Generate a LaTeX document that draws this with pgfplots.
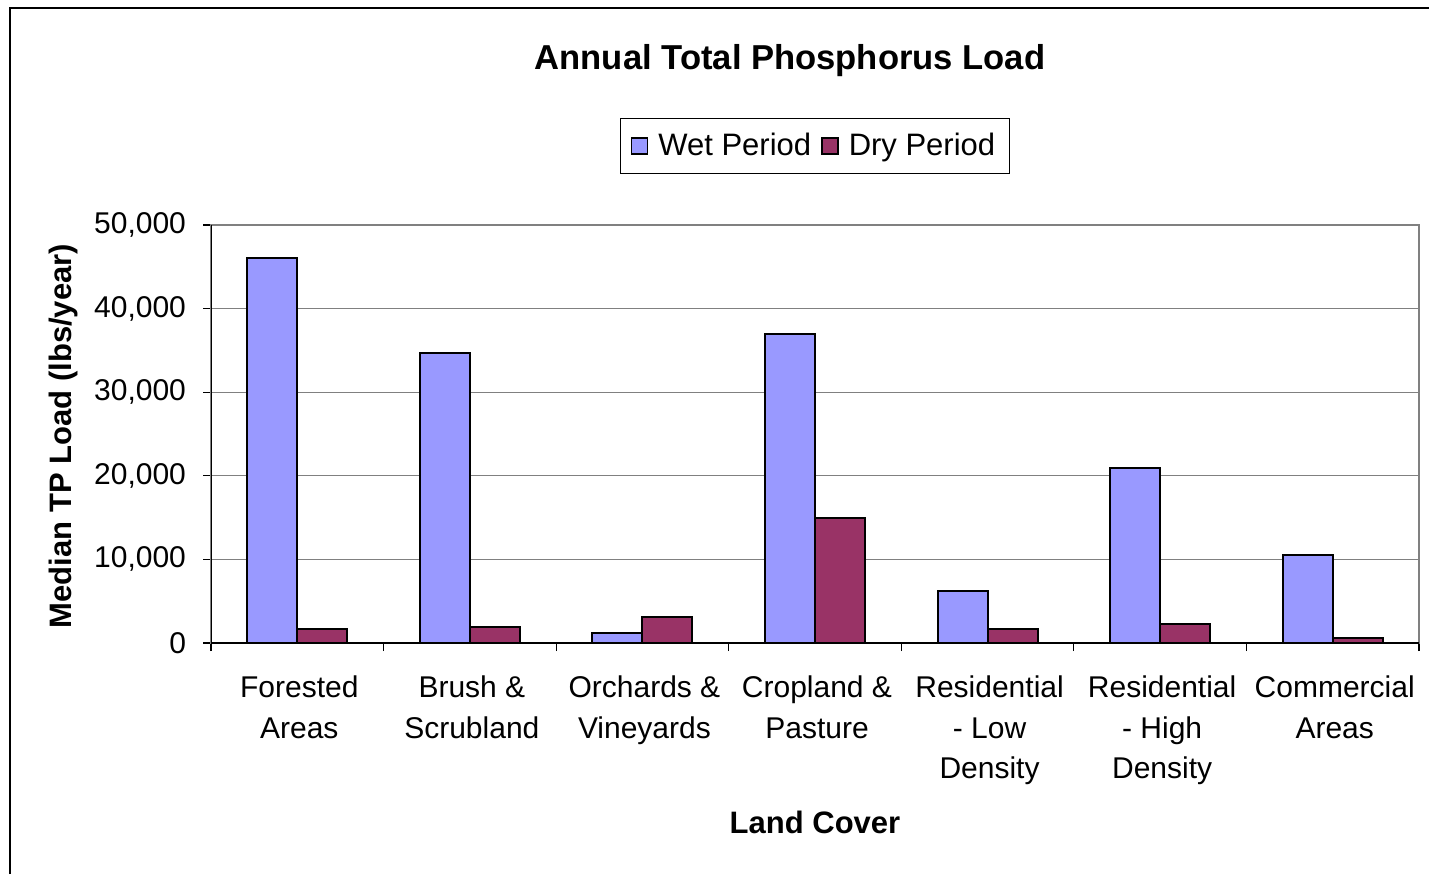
\documentclass[border=0pt]{standalone}
\usepackage{fontspec}
\setmainfont{Liberation Sans}
\usepackage{pgfplots}
\pgfplotsset{compat=1.18}
\definecolor{wet}{HTML}{9999FF}
\definecolor{dry}{HTML}{993366}
\begin{document}
\begin{tikzpicture}
\useasboundingbox (0,0) rectangle (714.5pt,-437pt);
\draw[line width=1pt] (5pt,-437pt) -- (5pt,-4pt) -- (714.5pt,-4pt);
\node[font=\fontsize{17.3}{20}\selectfont\bfseries] at (395pt,-30.5pt) {Annual Total Phosphorus Load};
\node[font=\fontsize{15.5}{18}\selectfont\bfseries, rotate=90] at (31.5pt,-218pt) {Median TP Load (lbs/year)};
\node[font=\fontsize{15.5}{18}\selectfont\bfseries] at (407.5pt,-411pt) {Land Cover};
\begin{axis}[
  at={(105.5pt,-321.5pt)}, anchor=south west,
  width=604pt, height=209pt, scale only axis,
  xmin=-0.5, xmax=6.5, ymin=0, ymax=50000,
  ybar, bar width=0.29,
  xtick={-0.5,0.5,...,6.5}, xticklabels={},
  extra x ticks={0,1,2,3,4,5,6},
  extra x tick labels={{Forested\\Areas},{Brush \&\\Scrubland},{Orchards \&\\Vineyards},{Cropland \&\\Pasture},{Residential\\- Low\\Density},{Residential\\- High\\Density},{Commercial\\Areas}},
  extra x tick style={major tick length=0pt},
  xtick pos=lower, ytick pos=left,
  ytick={0,10000,20000,30000,40000,50000},
  scaled y ticks=false,
  yticklabel style={xshift=-5pt, /pgf/number format/fixed, /pgf/number format/1000 sep={,}, /pgf/number format/assume math mode=true},
  tick align=outside, major tick length=4pt,
  tick style={black, line width=0.6pt},
  ymajorgrids, grid style={gray, line width=0.6pt},
  axis line style={gray, line width=0.6pt},
  tick label style={font=\fontsize{15}{20.25}\selectfont},
  xticklabel style={align=center, yshift=-13pt, xshift=1pt},
  legend style={at={(0.5,1.189)}, anchor=center, draw=black, line width=0.5pt,
    font=\fontsize{15.5}{18}\selectfont, inner xsep=5pt, inner ysep=5.5pt,
    /tikz/every odd column/.append style={column sep=3pt},
    /tikz/every even column/.append style={column sep=3pt}},
  legend columns=2,
  legend image code/.code={\draw[#1, line width=0.8pt] (0pt,-4pt) rectangle (8pt,4pt);},
]
\addplot[fill=wet, draw=black, line width=1pt, bar shift=-0.145] coordinates {(0,46000) (1,34700) (2,1200) (3,37000) (4,6200) (5,20900) (6,10500)};
\addplot[fill=dry, draw=black, line width=1pt, bar shift=0.145] coordinates {(0,1700) (1,1900) (2,3100) (3,15000) (4,1700) (5,2300) (6,600)};
\legend{Wet Period, Dry Period}
\draw[black, line width=0.8pt] (rel axis cs:0,0) -- (rel axis cs:0,1);
\draw[black, line width=0.8pt] (rel axis cs:0,0) -- (rel axis cs:1,0);
\end{axis}
\end{tikzpicture}
\end{document}
